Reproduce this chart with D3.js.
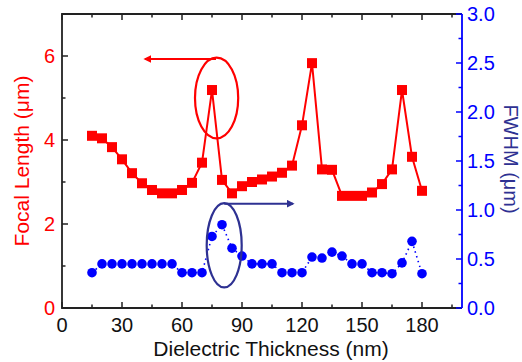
<!DOCTYPE html>
<html>
<head>
    <meta charset="utf-8"/>
    <title>Focal length and FWHM</title>
    <style>
        body { margin: 0; background: #fff; font-family: Arial, 'Liberation Sans', Helvetica, sans-serif; }
        svg { display: block; }
        .tick-lbl { font-size: 20px; }
        .title { font-size: 21px; }
    </style>
    <script src="https://cdn.jsdelivr.net/npm/d3@7"></script>
</head>
<body>
<svg id="chart" width="522" height="362"></svg>
<script>
// thickness (nm)
const thickness = [15, 20, 25, 30, 35, 40, 45, 50, 55, 60, 65, 70, 75, 80, 85, 90, 95,
    100, 105, 110, 115, 120, 125, 130, 135, 140, 145, 150, 155, 160, 165, 170, 175, 180];
// focal length (um), left axis
const focal = [4.10, 4.04, 3.83, 3.54, 3.21, 2.97, 2.81, 2.73, 2.73, 2.81, 2.98, 3.46, 5.19,
    3.05, 2.73, 2.90, 3.00, 3.06, 3.13, 3.22, 3.39, 4.35, 5.83, 3.30, 3.29, 2.67, 2.67,
    2.67, 2.75, 2.95, 3.30, 5.19, 3.60, 2.79];
// FWHM (um), right axis
const fwhm = [0.36, 0.45, 0.45, 0.45, 0.45, 0.45, 0.45, 0.45, 0.45, 0.36, 0.36, 0.36, 0.73,
    0.85, 0.61, 0.53, 0.45, 0.45, 0.45, 0.36, 0.36, 0.36, 0.52, 0.51, 0.57, 0.53, 0.45,
    0.45, 0.36, 0.36, 0.35, 0.46, 0.68, 0.35];

const xTicks = [0, 30, 60, 90, 120, 150, 180];
const yLeftTicks = [0, 2, 4, 6];
const yRightTicks = [0, 0.5, 1.0, 1.5, 2.0, 2.5, 3.0];

const svg = d3.select("#chart");
const margin = {left: 62, right: 60, top: 14, bottom: 54};
const W = 522, H = 362;

const x = d3.scaleLinear().domain([0, 200]).range([margin.left, W - margin.right]);
const yL = d3.scaleLinear().domain([0, 7]).range([H - margin.bottom, margin.top]);
const yR = d3.scaleLinear().domain([0, 3]).range([H - margin.bottom, margin.top]);

const RED = "#ff0000", BLUE = "#0000ff", NAVY = "#2e3192";

// arrow markers
const defs = svg.append("defs");
[["arrRed", RED], ["arrNavy", NAVY]].forEach(([id, c]) => {
    defs.append("marker").attr("id", id)
        .attr("viewBox", "0 0 10 10").attr("refX", 8).attr("refY", 5)
        .attr("markerWidth", 4).attr("markerHeight", 4).attr("orient", "auto")
        .append("path").attr("d", "M0,0 L10,5 L0,10 z").attr("fill", c);
});

// lines
const lineL = d3.line().x((d, i) => x(thickness[i])).y(d => yL(d));
const lineR = d3.line().x((d, i) => x(thickness[i])).y(d => yR(d));

svg.append("path").datum(focal).attr("d", lineL)
    .attr("fill", "none").attr("stroke", RED).attr("stroke-width", 2);
svg.append("path").datum(fwhm).attr("d", lineR)
    .attr("fill", "none").attr("stroke", BLUE).attr("stroke-width", 1.6)
    .attr("stroke-dasharray", "1.5,3.5");

svg.selectAll(".sq").data(focal).enter().append("rect")
    .attr("x", (d, i) => x(thickness[i]) - 5).attr("y", d => yL(d) - 5)
    .attr("width", 10).attr("height", 10).attr("fill", RED);
svg.selectAll(".dot").data(fwhm).enter().append("circle")
    .attr("cx", (d, i) => x(thickness[i])).attr("cy", d => yR(d))
    .attr("r", 4.8).attr("fill", BLUE);

// annotations
svg.append("ellipse").attr("cx", x(77.3)).attr("cy", yL(5.0))
    .attr("rx", x(77.3 + 10.8) - x(77.3)).attr("ry", yL(5.0) - yL(5.96))
    .attr("fill", "none").attr("stroke", RED).attr("stroke-width", 2.2);
svg.append("line").attr("x1", x(77)).attr("x2", x(41.5))
    .attr("y1", yL(5.93)).attr("y2", yL(5.93))
    .attr("stroke", RED).attr("stroke-width", 2).attr("marker-end", "url(#arrRed)");

svg.append("ellipse").attr("cx", x(81.1)).attr("cy", yR(0.64))
    .attr("rx", x(81.1 + 8.75) - x(81.1)).attr("ry", yR(0.64) - yR(1.07))
    .attr("fill", "none").attr("stroke", NAVY).attr("stroke-width", 2.2);
svg.append("line").attr("x1", x(81.1)).attr("x2", x(115.5))
    .attr("y1", yR(1.065)).attr("y2", yR(1.065))
    .attr("stroke", NAVY).attr("stroke-width", 2).attr("marker-end", "url(#arrNavy)");

// frame
const x0 = x(0), x1 = x(200), y0 = yL(0), y1 = yL(7);
svg.append("path").attr("d", `M${x1},${y1} L${x0},${y1} L${x0},${y0} L${x1},${y0}`)
    .attr("fill", "none").attr("stroke", "#222").attr("stroke-width", 1.8);
svg.append("line").attr("x1", x1).attr("x2", x1).attr("y1", y1).attr("y2", y0)
    .attr("stroke", BLUE).attr("stroke-width", 1.8);

// x ticks (bottom & top, inward)
const xMinor = d3.range(0, 201, 15).filter(v => v % 30 !== 0);
const xMajor = d3.range(0, 201, 30);
xMajor.concat(xMinor).forEach(v => {
    const len = v % 30 === 0 ? 6 : 3.5;
    svg.append("line").attr("x1", x(v)).attr("x2", x(v)).attr("y1", y0).attr("y2", y0 - len)
        .attr("stroke", "#222").attr("stroke-width", 1.5);
    svg.append("line").attr("x1", x(v)).attr("x2", x(v)).attr("y1", y1).attr("y2", y1 + len)
        .attr("stroke", "#222").attr("stroke-width", 1.5);
});
svg.selectAll(".xl").data(xTicks).enter().append("text")
    .attr("class", "tick-lbl").attr("x", d => x(d)).attr("y", y0 + 24)
    .attr("text-anchor", "middle").attr("fill", "#111").text(d => d);

// left ticks
d3.range(0, 8).forEach(v => {
    const len = v % 2 === 0 ? 6 : 3.5;
    svg.append("line").attr("x1", x0).attr("x2", x0 + len).attr("y1", yL(v)).attr("y2", yL(v))
        .attr("stroke", "#222").attr("stroke-width", 1.5);
});
svg.selectAll(".yl").data(yLeftTicks).enter().append("text")
    .attr("class", "tick-lbl").attr("x", x0 - 7).attr("y", d => yL(d) + 7)
    .attr("text-anchor", "end").attr("fill", RED).text(d => d);

// right ticks
d3.range(0, 3.01, 0.25).forEach(v => {
    const len = Math.abs(v * 2 - Math.round(v * 2)) < 1e-6 ? 6 : 3.5;
    svg.append("line").attr("x1", x1).attr("x2", x1 - len).attr("y1", yR(v)).attr("y2", yR(v))
        .attr("stroke", BLUE).attr("stroke-width", 1.5);
});
svg.selectAll(".yr").data(yRightTicks).enter().append("text")
    .attr("class", "tick-lbl").attr("x", x1 + 5).attr("y", d => yR(d) + 7)
    .attr("fill", BLUE).text(d => d.toFixed(1));

// titles
svg.append("text").attr("class", "title").attr("x", (x0 + x1) / 2 + 9).attr("y", H - 6)
    .attr("text-anchor", "middle").attr("fill", "#111").text("Dielectric Thickness (nm)");
svg.append("text").attr("class", "title")
    .attr("transform", `translate(29,${(y0 + y1) / 2}) rotate(-90)`)
    .attr("text-anchor", "middle").attr("fill", RED).text("Focal Length (\u03bcm)");
svg.append("text").attr("class", "title").style("font-size", "20px")
    .attr("transform", `translate(504,${(y0 + y1) / 2 - 2}) rotate(90)`)
    .attr("text-anchor", "middle").attr("fill", NAVY).text("FWHM (\u03bcm)");
</script>
</body>
</html>
